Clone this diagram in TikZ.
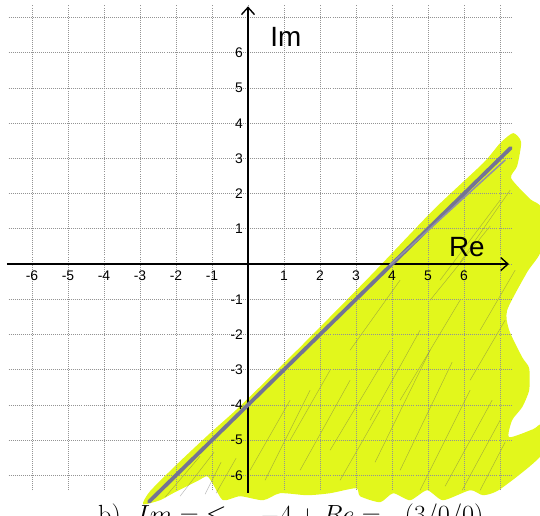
\documentclass[tikz,border=0pt]{standalone}
\usepackage{fontspec}
\newfontfamily\labelfont{Liberation Sans}
\usetikzlibrary{arrows.meta}
\definecolor{marker}{RGB}{226,247,28}
\definecolor{pencil}{RGB}{116,116,148}
\tikzset{
  gridline/.style={densely dotted, gray!85, line width=0.6pt},
  axisline/.style={line width=1.1pt, -{Straight Barb[length=2mm,width=3.6mm]}},
  ticklabel/.style={font=\labelfont\fontsize{11}{11}\selectfont, inner sep=1pt},
  axislabel/.style={font=\labelfont\fontsize{22}{22}\selectfont, inner sep=0pt},
  hatch/.style={gray!70!black, line width=0.35pt, opacity=0.45}
}
\begin{document}
\begin{tikzpicture}[x=1cm,y=0.978cm]
\useasboundingbox (-6.889,-7.131) rectangle (8.111,7.5);
\begin{scope}[shift={(-6.889cm,7.333cm)},x=0.02778cm,y=-0.02778cm]
\fill[marker] plot[smooth cycle,tension=0.4] coordinates {
  (143,504) (150,491) (178,463) (210,433) (240,406) (300,347) (370,276)
  (433,210) (483,163) (500,143) (513,133) (521,142) (517,166) (511,178)
  (530,199) (541,208) (541,250) (527,272) (507,310) (509,330) (522,357)
  (529,368) (529,390) (522,407) (512,420) (509,437) (533,429) (541,425)
  (541,455) (500,489) (483,495) (470,490) (443,500) (427,490) (410,500)
  (393,493) (380,502) (360,496) (356,488) (330,493) (307,495) (280,493)
  (263,500) (240,496) (223,500) (213,484) (207,476) (197,481) (173,493)
  (160,500)};
\foreach \xa/\ya/\xb/\yb in {165/497/200/456, 180/496/214/452, 205/494/221/462,
    216/493/236/458, 250/470/290/400, 265/480/310/390, 290/440/330/370,
    300/470/350/380, 330/450/390/350, 340/480/380/410, 370/420/420/330,
    375/462/430/350, 400/400/460/300, 400/470/452/362, 420/490/470/390,
    350/350/400/280, 440/280/500/200, 460/262/510/190, 430/300/490/226,
    445/486/492/400, 462/490/500/420, 480/490/505/442, 480/330/515/270,
    470/380/505/320}
  \draw[hatch] (\xa,\ya) -- (\xb,\yb);
\end{scope}
\foreach \x in {-6,...,7}
  \draw[gridline] (\x,-6.42) -- (\x,7.36);
\foreach \y in {-6,...,7}
  \draw[gridline] (-6.65,\y) -- (7.3,\y);
\coordinate (xstart) at (-6.7,0);
\coordinate (xend) at (7.25,0);
\coordinate (ystart) at (0,-6.5);
\coordinate (yend) at (0,7.32);
\draw[axisline] (xstart) -- (xend);
\draw[axisline] (ystart) -- (yend);
\coordinate (linestart) at (-2.75,-6.75);
\coordinate (lineend) at (7.3,3.3);
\draw[pencil, line width=3pt, line cap=round] (linestart) -- (lineend);
\draw[pencil!80, line width=1.2pt, line cap=round] (3.94,-0.03) -- (7.14,2.95);
\foreach \x in {-6,-5,-4,-3,-2,-1,1,2,3,4,5,6}
  \node[ticklabel] (x\x) at (\x,-0.32) {\x};
\foreach \y in {-6,-5,-4,-3,-2,-1,1,2,3,4,5,6}
  \node[ticklabel, anchor=east] (y\y) at (-0.1,\y) {\y};
\node[axislabel] (im) at (1.05,6.45) {Im};
\node[axislabel] (re) at (6.08,0.48) {Re};
\node[anchor=base west, inner sep=0pt, font=\huge] (caption) at (-4.17,-7.36)
  {b)\ \ $Im =\;\leq\quad -4 + Re =$\ \ \ (3/0/0)};
\end{tikzpicture}
\end{document}
